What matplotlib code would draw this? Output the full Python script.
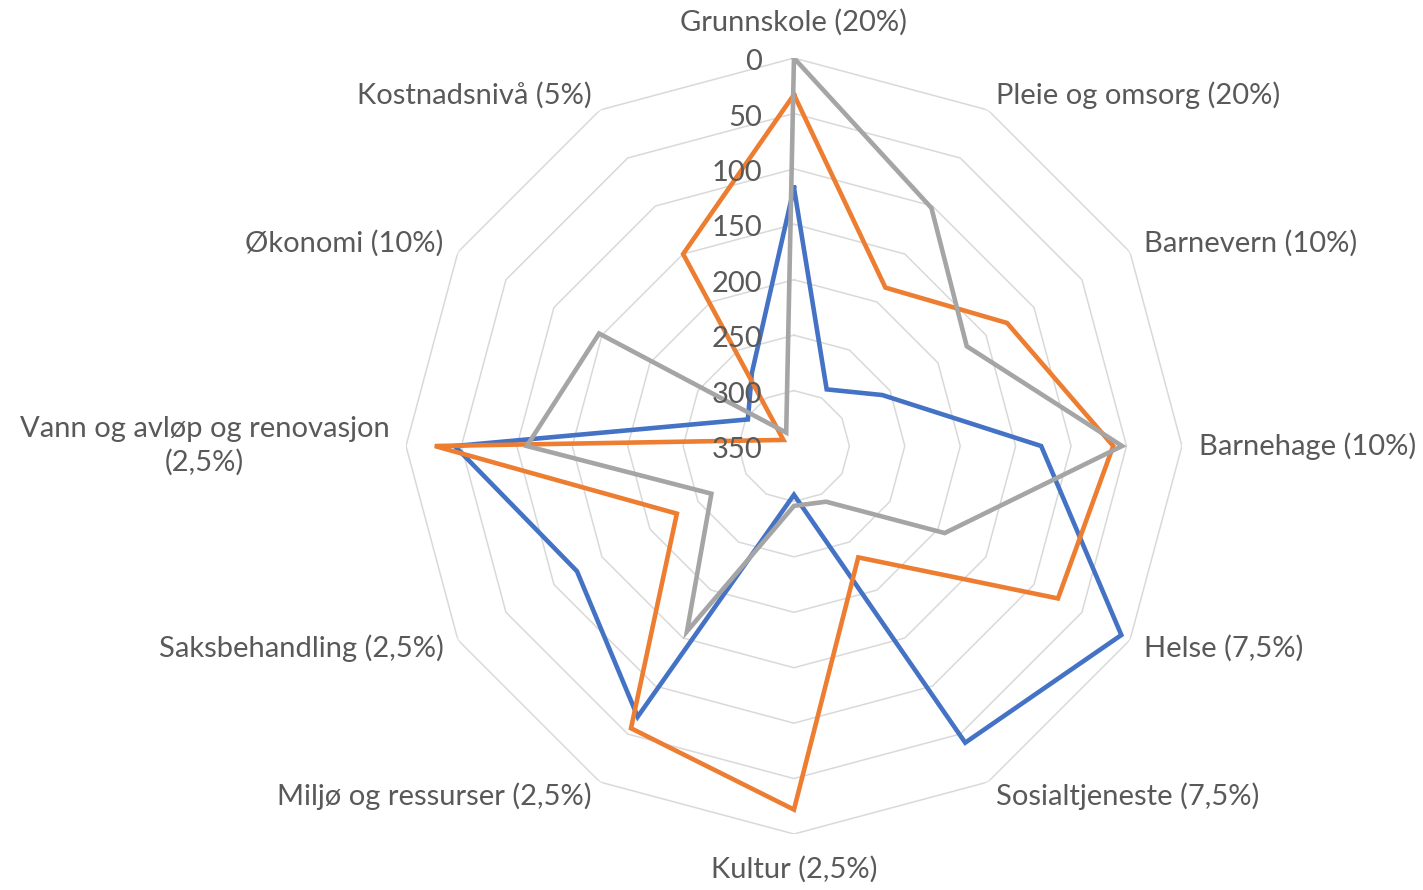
import numpy as np
import matplotlib
matplotlib.use('Agg')
import matplotlib.pyplot as plt

plt.rcParams['font.family'] = ['Lato', 'DejaVu Sans']

# categories clockwise from the top
categories = ['Grunnskole (20%)', 'Pleie og omsorg (20%)', 'Barnevern (10%)',
              'Barnehage (10%)', 'Helse (7,5%)', 'Sosialtjeneste (7,5%)',
              'Kultur (2,5%)', 'Miljø og ressurser (2,5%)', 'Saksbehandling (2,5%)',
              'Vann og avløp og renovasjon\n(2,5%)', 'Økonomi (10%)', 'Kostnadsnivå (5%)']

blue_vals = [117, 291, 258, 127, 9, 41, 306, 68, 124, 44, 302, 274]
orange_vals = [33, 185, 128, 62, 75, 234, 22, 56, 228, 26, 339, 150]
gray_vals = [0, 102, 170, 54, 193, 292, 296, 157, 264, 109, 147, 336]

r_ticks = [0, 50, 100, 150, 200, 250, 300, 350]

text_col = '#595959'
grid_col = '#D9D9D9'

n = len(categories)
angles = np.arange(n) * 2 * np.pi / n
ang_c = np.append(angles, angles[0])

fig = plt.figure(figsize=(14.23, 8.9), dpi=100)
ax = fig.add_axes([0.2853, 0.0629, 0.5453, 0.8719], projection='polar')
ax.set_theta_zero_location('N')
ax.set_theta_direction(-1)
ax.set_ylim(350, 0)   # reversed: 0 on the outside
ax.grid(False)
ax.set_xticks([])
ax.set_yticks([])
ax.spines['polar'].set_visible(False)
ax.patch.set_alpha(0)

# polygon gridlines
for r in r_ticks[:-1]:
    ax.plot(ang_c, [r] * (n + 1), color=grid_col, lw=1.1, zorder=1)

# series
for vals, col in [(blue_vals, '#4472C4'), (orange_vals, '#ED7D31'), (gray_vals, '#A5A5A5')]:
    v = np.append(vals, vals[0])
    ax.plot(ang_c, v, color=col, lw=3.3, solid_joinstyle='miter', zorder=3)

# radial tick labels
for r in r_ticks:
    ax.annotate(str(r), xy=(0, r), xytext=(-23, -3), textcoords='offset points',
                ha='right', va='center', fontsize=21, color=text_col, zorder=4)

# category labels
for a, lab in zip(angles, categories):
    s = np.sin(a)
    if abs(s) < 1e-6:
        ha = 'center'
        va = 'bottom' if np.cos(a) > 0 else 'top'
        rr = -20
    else:
        ha = 'left' if s > 0 else 'right'
        va = 'center'
        rr = -15
    ax.text(a, rr, lab, ha=ha, va=va, fontsize=21, color=text_col,
            multialignment='center', linespacing=1.3)

plt.savefig('out.png', dpi=100)
